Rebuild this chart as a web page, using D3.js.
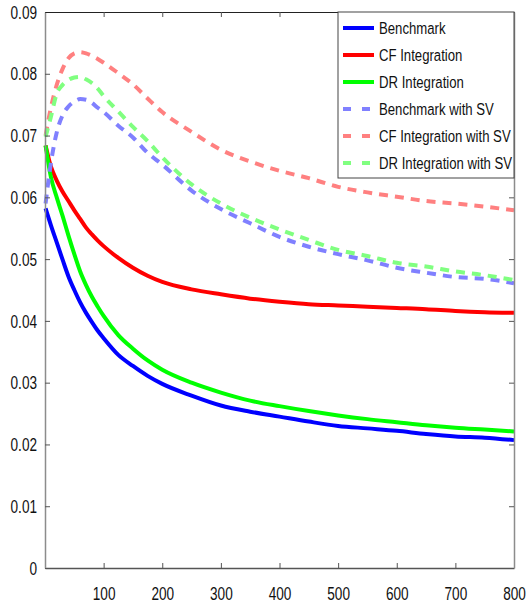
<!DOCTYPE html>
<html>
<head>
<meta charset="utf-8">
<script src="https://cdn.jsdelivr.net/npm/d3@7/dist/d3.min.js"></script>
<style>
  body { margin: 0; background: #fff; }
  text { font-family: "Liberation Sans", Arial, sans-serif; fill: #111; }
</style>
</head>
<body>
<div id="chart"></div>
<script>
// x positions where the curves were read
var xs = [1, 10, 20, 30, 40, 50, 60, 70, 80, 90, 100, 125, 150, 175, 200, 250, 300, 350, 400, 450, 500, 550, 600, 650, 700, 750, 800];

// series values
var benchmark = [0.0582, 0.0555, 0.0527, 0.0499, 0.0472, 0.0450, 0.0430, 0.0413, 0.0398, 0.0384, 0.0372, 0.0345, 0.0327, 0.0311, 0.0298, 0.0279, 0.0263, 0.0253, 0.0245, 0.0237, 0.0230, 0.0226, 0.0222, 0.0217, 0.0213, 0.0211, 0.0207];
var cfIntegration = [0.0684, 0.0650, 0.0627, 0.0609, 0.0594, 0.0579, 0.0565, 0.0551, 0.0540, 0.0530, 0.0521, 0.0502, 0.0486, 0.0473, 0.0463, 0.0451, 0.0443, 0.0436, 0.0431, 0.0427, 0.0425, 0.0423, 0.0421, 0.0419, 0.0416, 0.0414, 0.0413];
var drIntegration = [0.0684, 0.0633, 0.0600, 0.0570, 0.0538, 0.0508, 0.0480, 0.0458, 0.0439, 0.0423, 0.0408, 0.0377, 0.0355, 0.0336, 0.0321, 0.0300, 0.0284, 0.0271, 0.0262, 0.0254, 0.0247, 0.0241, 0.0236, 0.0231, 0.0227, 0.0224, 0.0221];
var benchmarkSV = [0.0590, 0.0655, 0.0705, 0.0733, 0.0747, 0.0755, 0.0759, 0.0758, 0.0753, 0.0745, 0.0738, 0.0716, 0.0697, 0.0672, 0.0653, 0.0611, 0.0581, 0.0558, 0.0536, 0.0520, 0.0508, 0.0498, 0.0486, 0.0478, 0.0471, 0.0468, 0.0461];
var cfIntegrationSV = [0.0700, 0.0745, 0.0782, 0.0808, 0.0825, 0.0833, 0.0835, 0.0833, 0.0829, 0.0824, 0.0818, 0.0801, 0.0783, 0.0760, 0.0738, 0.0706, 0.0677, 0.0658, 0.0643, 0.0631, 0.0617, 0.0608, 0.0601, 0.0594, 0.0590, 0.0585, 0.0579];
var drIntegrationSV = [0.0698, 0.0730, 0.0768, 0.0782, 0.0790, 0.0794, 0.0795, 0.0791, 0.0785, 0.0776, 0.0764, 0.0739, 0.0714, 0.0691, 0.0665, 0.0621, 0.0590, 0.0567, 0.0548, 0.0531, 0.0515, 0.0505, 0.0494, 0.0488, 0.0480, 0.0474, 0.0466];

var seriesNames = ["Benchmark", "CF Integration", "DR Integration", "Benchmark with SV", "CF Integration with SV", "DR Integration with SV"];
var seriesValues = [benchmark, cfIntegration, drIntegration, benchmarkSV, cfIntegrationSV, drIntegrationSV];
var seriesColors = ["#0000ff", "#ff0000", "#00ff00", "#8080ff", "#ff8080", "#80ff80"];
var seriesDashed = [false, false, false, true, true, true];

var xTicks = [100, 200, 300, 400, 500, 600, 700, 800];
var yTicks = [0, 0.01, 0.02, 0.03, 0.04, 0.05, 0.06, 0.07, 0.08, 0.09];

var width = 528, height = 611;
var margin = {top: 12, right: 14, bottom: 43, left: 45};

var svg = d3.select("#chart").append("svg")
  .attr("width", width)
  .attr("height", height);

var x = d3.scaleLinear().domain([0, 800]).range([margin.left, width - margin.right]);
var y = d3.scaleLinear().domain([0, 0.09]).range([height - margin.bottom, margin.top]);

// narrow, tall look of the original labels
var lblScale = "scale(0.85,1.2)";

// lines
var line = d3.line()
  .x(function (d) { return x(d[0]); })
  .y(function (d) { return y(d[1]); })
  .curve(d3.curveMonotoneX);

seriesValues.forEach(function (vals, i) {
  svg.append("path")
    .datum(xs.map(function (xv, j) { return [xv, vals[j]]; }))
    .attr("fill", "none")
    .attr("stroke", seriesColors[i])
    .attr("stroke-width", 4)
    .attr("stroke-dasharray", seriesDashed[i] ? "9,7" : null)
    .attr("d", line);
});

// axes, ticks pointing inward
var gx = svg.append("g")
  .attr("transform", "translate(0," + y(0) + ")")
  .call(d3.axisBottom(x).tickValues(xTicks).tickSize(-5).tickPadding(15.3).tickSizeOuter(0));
gx.selectAll("text").attr("font-size", 16).attr("transform", lblScale);

var gy = svg.append("g")
  .attr("transform", "translate(" + x(0) + ",0)")
  .call(d3.axisLeft(y).tickValues(yTicks).tickSize(-5).tickPadding(9.4).tickSizeOuter(0)
    .tickFormat(function (d) { return d === 0 ? "0" : d3.format(".2f")(d); }));
gy.selectAll("text").attr("font-size", 16).attr("transform", lblScale);

var gt = svg.append("g")
  .attr("transform", "translate(0," + y(0.09) + ")")
  .call(d3.axisTop(x).tickValues(xTicks).tickSize(-5).tickSizeOuter(0).tickFormat(""));

var gr = svg.append("g")
  .attr("transform", "translate(" + x(800) + ",0)")
  .call(d3.axisRight(y).tickValues(yTicks).tickSize(-5).tickSizeOuter(0).tickFormat(""));

[gx, gy, gt, gr].forEach(function (g) {
  g.selectAll(".tick line").attr("stroke", "#555");
});
gy.select(".domain").attr("stroke", "#8c8c8c").attr("stroke-width", 1.5);
gr.select(".domain").attr("stroke", "#8c8c8c").attr("stroke-width", 1.5);
gx.select(".domain").attr("stroke", "#555").attr("stroke-width", 1.5);
gt.select(".domain").attr("stroke", "#222").attr("stroke-width", 1);

// legend
var legX = 338, legY = 12, legW = x(800) - 338, legH = 166, rowH = 27;
var legend = svg.append("g");
legend.append("rect")
  .attr("x", legX).attr("y", legY)
  .attr("width", legW).attr("height", legH)
  .attr("fill", "#fff")
  .attr("stroke", "#444")
  .attr("stroke-width", 1);

seriesNames.forEach(function (name, i) {
  var cy = legY + 16 + i * rowH;
  legend.append("line")
    .attr("x1", 343).attr("x2", seriesDashed[i] ? 370 : 374)
    .attr("y1", cy).attr("y2", cy)
    .attr("stroke", seriesColors[i])
    .attr("stroke-width", 4)
    .attr("stroke-dasharray", seriesDashed[i] ? "8,11" : null);
  legend.append("text")
    .attr("transform", "translate(379," + cy + ") scale(0.85,1.1)")
    .attr("dy", "0.36em")
    .attr("font-size", 15.5)
    .text(name);
});
</script>
</body>
</html>
